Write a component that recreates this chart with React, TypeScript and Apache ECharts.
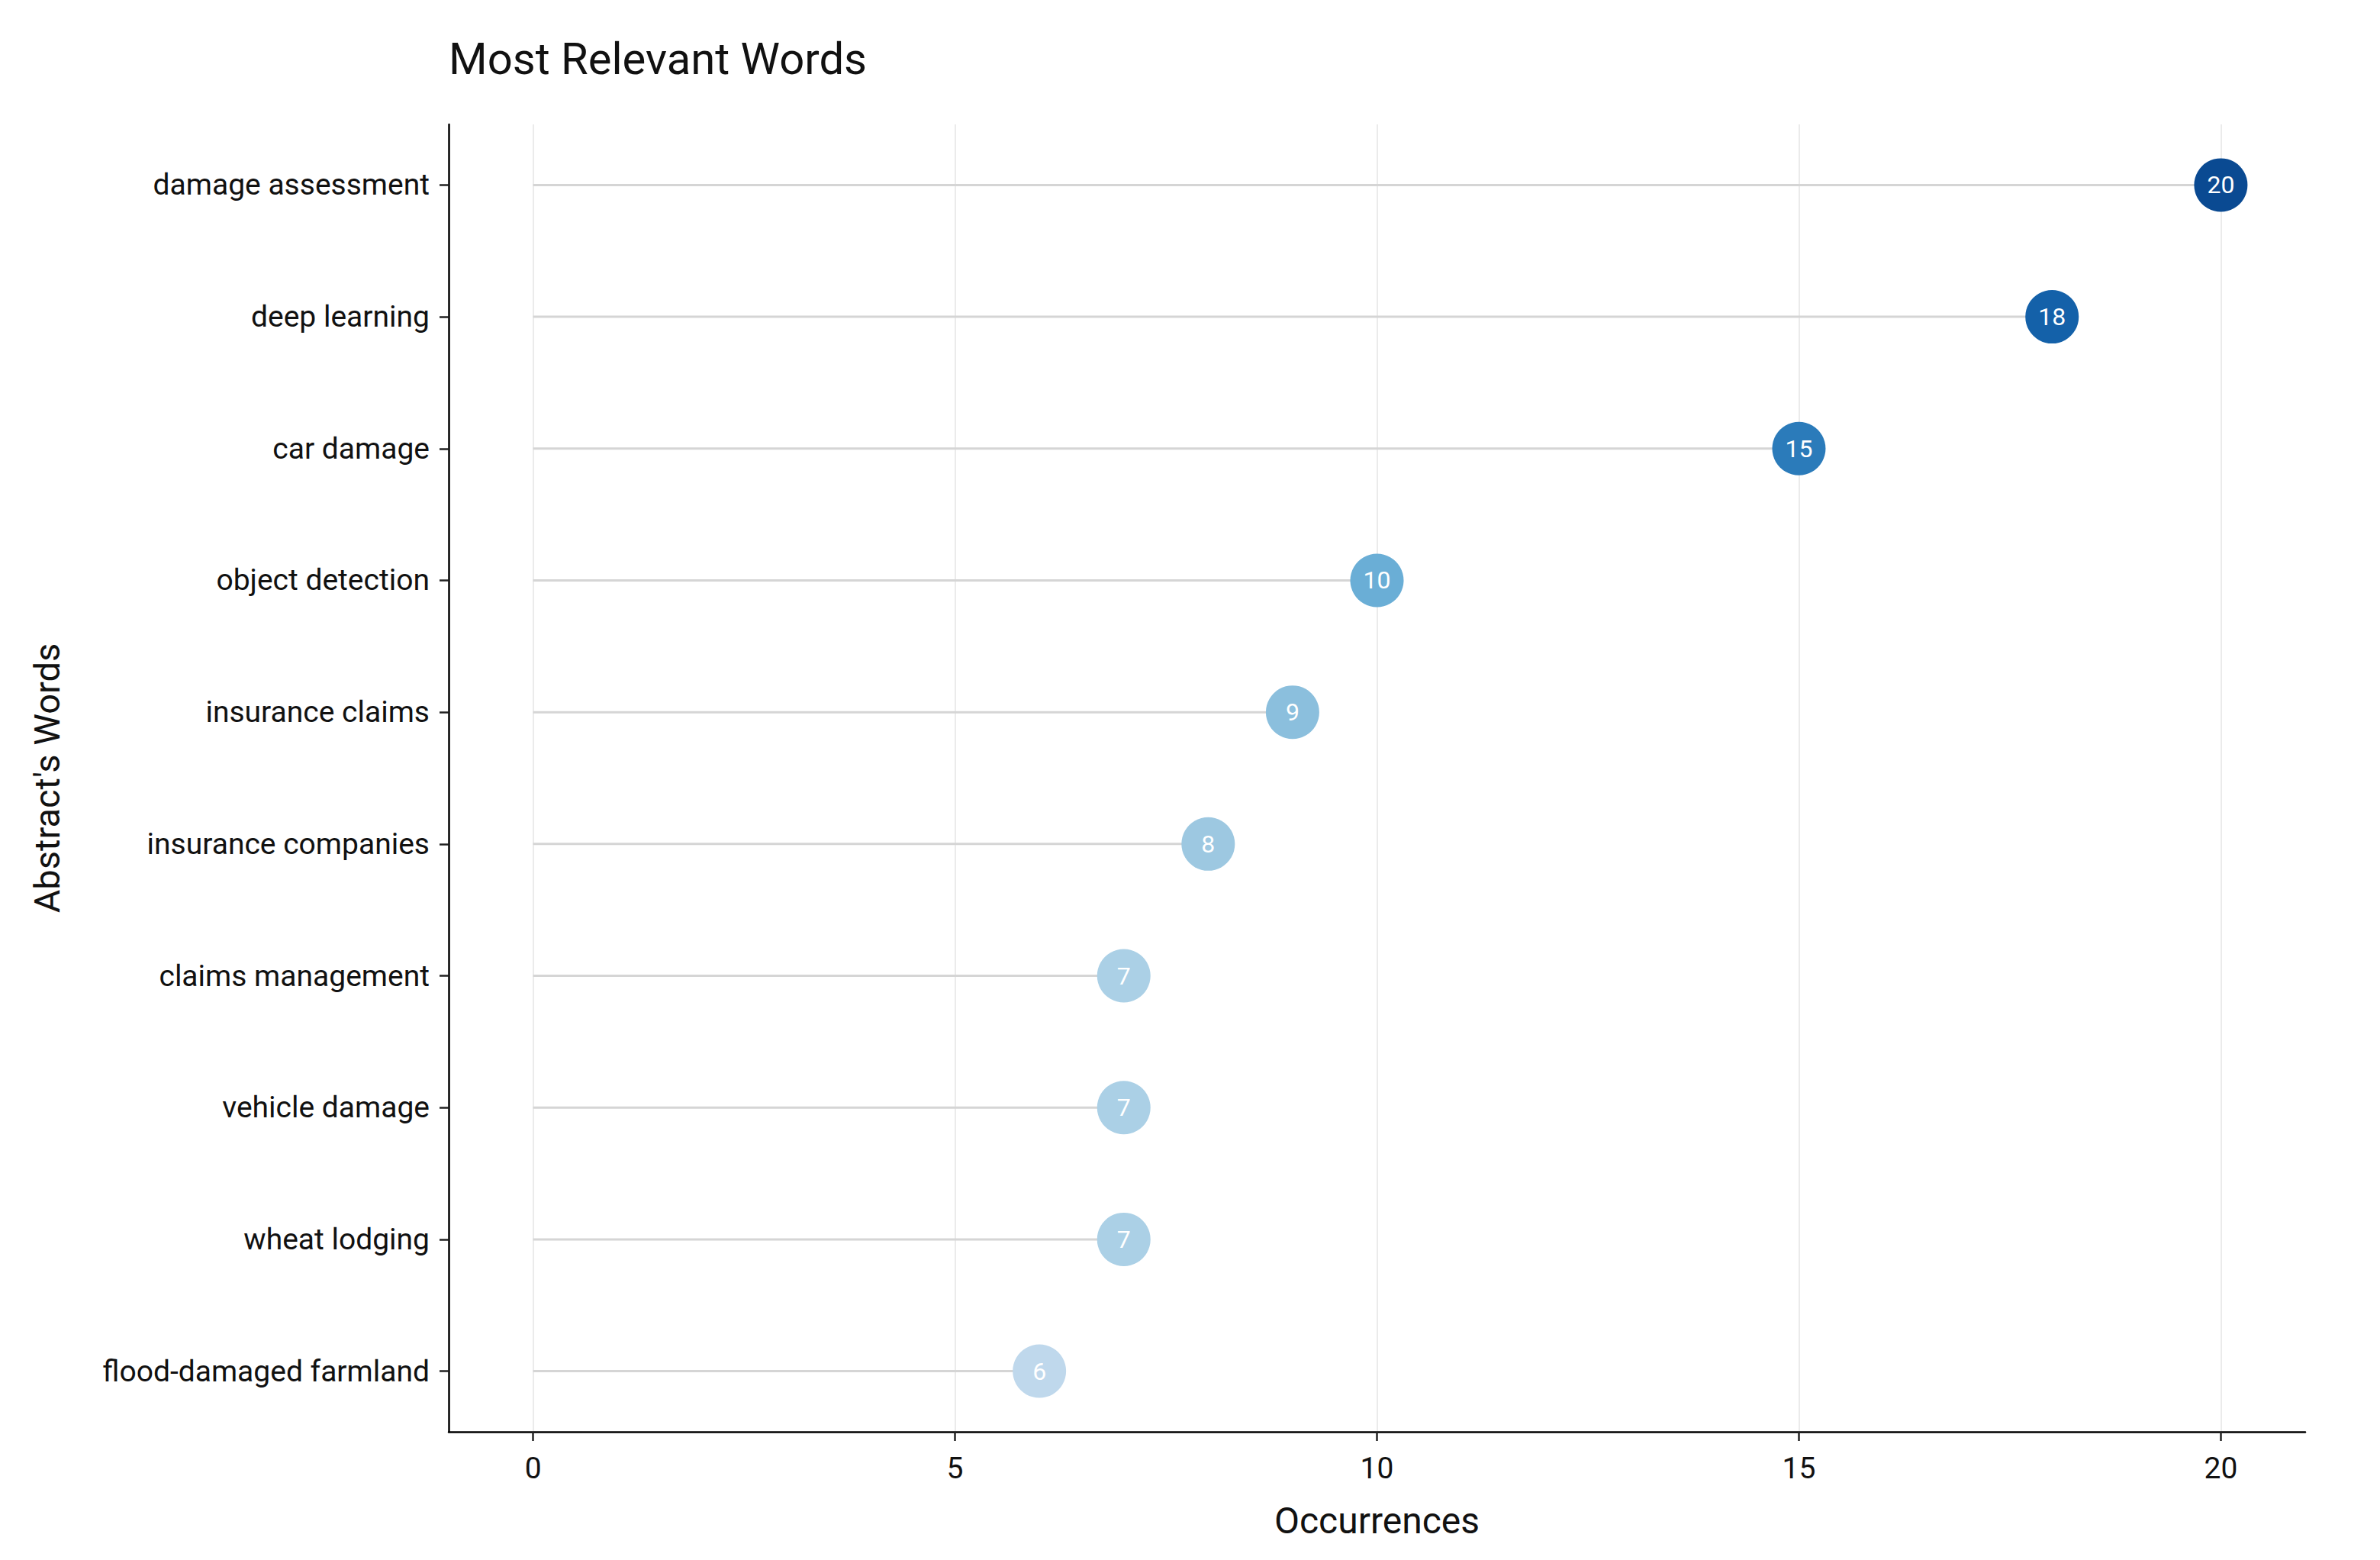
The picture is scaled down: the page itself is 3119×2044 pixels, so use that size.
import React, { useEffect, useRef } from "react";
import * as echarts from "echarts";

const categories = [
  "damage assessment",
  "deep learning",
  "car damage",
  "object detection",
  "insurance claims",
  "insurance companies",
  "claims management",
  "vehicle damage",
  "wheat lodging",
  "flood-damaged farmland",
];
const values = [20, 18, 15, 10, 9, 8, 7, 7, 7, 6];
const dotColors = [
  "#0a4a92",
  "#1461a9",
  "#2b7bba",
  "#6aaed6",
  "#8bbfdd",
  "#9dc8e1",
  "#abd0e6",
  "#abd0e6",
  "#abd0e6",
  "#bfd8ec",
];
const xTicks = [0, 5, 10, 15, 20];
const yTicks = categories.map((_, i) => i);

const FONT = "Roboto, 'Noto Sans', sans-serif";

export default function App() {
  const ref = useRef<HTMLDivElement>(null);
  useEffect(() => {
    document.body.style.margin = "0";
    const chart = echarts.init(ref.current!, null, { renderer: "svg" });
    const points = values.map((v, i) => ({
      value: [v, i],
      itemStyle: { color: dotColors[i], opacity: 1 },
    }));
    chart.setOption({
      animation: false,
      backgroundColor: "#ffffff",
      textStyle: { fontFamily: FONT },
      title: {
        text: "Most Relevant Words",
        left: 583,
        top: 43,
        textStyle: { fontFamily: FONT, fontSize: 58, fontWeight: "normal", color: "#111111" },
      },
      grid: { left: 588, right: 98, top: 163, bottom: 168, containLabel: false },
      xAxis: {
        type: "value",
        min: -1,
        max: 21,
        name: "Occurrences",
        nameLocation: "middle",
        nameGap: 92,
        nameTextStyle: { fontFamily: FONT, fontSize: 48, color: "#111111" },
        axisLine: { show: true, onZero: false, lineStyle: { color: "#000000", width: 2.5 } },
        axisTick: { show: true, length: 12, customValues: xTicks, lineStyle: { color: "#222222", width: 2.5 } },
        axisLabel: {
          customValues: xTicks,
          fontFamily: FONT,
          fontSize: 39,
          color: "#111111",
          margin: 28,
        },
        splitLine: { show: true, lineStyle: { color: "#ebebeb", width: 2 } },
      },
      yAxis: {
        type: "value",
        inverse: true,
        min: -0.46,
        max: 9.46,
        name: "Abstract's Words",
        nameLocation: "middle",
        nameGap: 503,
        nameTextStyle: { fontFamily: FONT, fontSize: 47, color: "#111111" },
        axisLine: { show: true, onZero: false, lineStyle: { color: "#000000", width: 2.5 } },
        axisTick: { show: true, length: 12, customValues: yTicks, lineStyle: { color: "#222222", width: 2.5 } },
        axisLabel: {
          customValues: yTicks,
          formatter: (v: number) => categories[Math.round(v)] ?? "",
          fontFamily: FONT,
          fontSize: 39,
          color: "#111111",
          margin: 25,
        },
        splitLine: { show: false },
      },
      series: [
        {
          type: "custom",
          renderItem: (params: any, api: any) => {
            const i = api.value(1);
            const v = api.value(0);
            const start = api.coord([0, i]);
            const end = api.coord([v, i]);
            return {
              type: "line",
              shape: { x1: start[0], y1: start[1], x2: end[0], y2: end[1] },
              style: { stroke: "#d5d5d5", lineWidth: 3 },
            };
          },
          encode: { x: 0, y: 1 },
          data: values.map((v, i) => [v, i]),
          z: 1,
        },
        {
          type: "scatter",
          symbol: "circle",
          symbolSize: 70,
          data: points,
          z: 3,
          itemStyle: { opacity: 1 },
          label: {
            show: true,
            position: "inside",
            formatter: (p: any) => String(p.value[0]),
            color: "#ffffff",
            fontFamily: FONT,
            fontSize: 32,
          },
        },
      ],
    });
    return () => chart.dispose();
  }, []);
  return (
    <div
      ref={ref}
      style={{ position: "fixed", left: 0, top: 0, width: 3119, height: 2044, background: "#fff" }}
    />
  );
}
